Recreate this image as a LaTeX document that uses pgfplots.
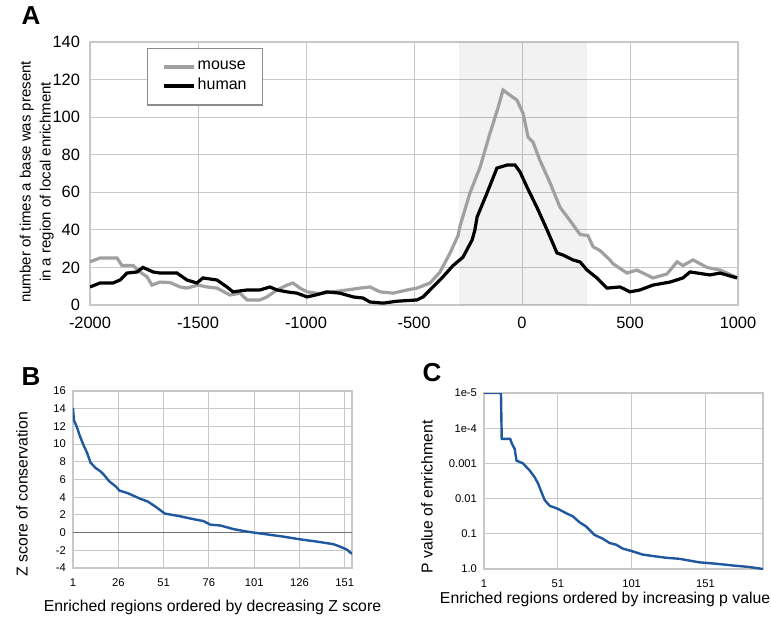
\documentclass[border=0pt]{standalone}
\usepackage{pgfplots}
\pgfplotsset{compat=1.18}
\usepackage{fontspec}
\setmainfont{Liberation Sans}

\definecolor{mousegray}{RGB}{160,160,160}
\definecolor{gridgray}{RGB}{200,200,200}
\definecolor{zblue}{RGB}{31,88,158}

\pgfplotsset{
  panel/.style={
    scale only axis,
    /pgf/number format/assume math mode=true,
    /pgf/number format/1000 sep={},
    major tick length=0pt, minor tick length=0pt,
    axis line style={gridgray, line width=0.6pt},
    grid=major, grid style={gridgray, line width=0.5pt},
  },
  small/.style={
    tick label style={font=\fontsize{5.6}{6.5}\selectfont},
    xticklabel style={yshift=-2pt},
    label style={font=\fontsize{7.9}{9}\selectfont},
  },
}

\begin{document}
\begin{tikzpicture}
\useasboundingbox (0,0) rectangle (385.5pt,-308pt);

% panel A
\node[font=\bfseries\fontsize{13}{15}\selectfont] at (15.5pt,-8pt) {A};
\begin{axis}[panel,
  at={(45pt,-152.5pt)}, anchor=south west,
  width=324pt, height=131.5pt,
  xmin=-2000, xmax=1000, ymin=0, ymax=140,
  xtick={-2000,-1500,...,1000}, ytick={0,20,...,140},
  tick label style={font=\fontsize{8.2}{9.8}\selectfont},
  xticklabel style={yshift=-2.5pt},
  yticklabel style={xshift=-1.5pt},
  ylabel={number of times a base was present\\in a region of local enrichment},
  ylabel style={align=center, font=\fontsize{7.5}{10}\selectfont,
    at={(axis description cs:-0.082,0.468)}, anchor=center},
  legend style={at={(0.088,0.977)}, anchor=north west, draw=black!45,
    line width=0.7pt, font=\fontsize{8}{9.5}\selectfont,
    inner xsep=7pt, inner ysep=5pt, row sep=1pt,
    nodes={inner sep=1pt}},
  legend cell align=left,
  legend image code/.code={\draw[#1, line width=2pt] (0pt,0pt) -- (15pt,0pt);},
]
\addplot[draw=none, fill=black, fill opacity=0.05, forget plot]
  coordinates {(-290,0) (-290,140) (300,140) (300,0)} -- cycle;

\addplot[mousegray, line width=1.6pt] coordinates {
(-2000,23) (-1954,25) (-1875,25) (-1852,21) (-1800,21) (-1769,17.6)
(-1736,15) (-1713,10.6) (-1676,12.2) (-1630,12) (-1583,9.6) (-1551,9)
(-1500,10.6) (-1458,9.6) (-1412,9) (-1352,5.3) (-1306,6.3) (-1273,2.7)
(-1213,2.7) (-1181,4.3) (-1134,8) (-1088,10.6) (-1060,11.7) (-1028,9)
(-995,7) (-935,6) (-875,7) (-810,8) (-750,9) (-704,9.6) (-657,7)
(-597,6.3) (-532,8) (-486,9) (-426,11.7) (-380,17.5) (-333,27.7)
(-296,37) (-287,42) (-241,59.6) (-194,73.4) (-148,91.5) (-111,105)
(-88,114.4) (-69,112.8) (-23,109) (5,102) (28,89.4) (51,86.7) (83,77)
(130,65) (176,52) (222,45) (269,37.5) (305,37) (329,31) (361,29)
(407,24) (421,22) (486,17) (532,18.6) (606,14.4) (671,16.5) (718,23)
(745,21) (792,24) (856,20) (917,18.6) (1000,14.4)
};
\addlegendentry{mouse}

\addplot[black, line width=1.6pt] coordinates {
(-2000,9.6) (-1954,11.7) (-1894,11.7) (-1861,13.3) (-1829,17) (-1782,17.6)
(-1755,20) (-1708,17.6) (-1676,17) (-1597,17) (-1551,13.3) (-1505,11.7)
(-1477,14.4) (-1412,13.3) (-1366,9.6) (-1338,7) (-1273,8) (-1213,8)
(-1167,9.6) (-1134,8) (-1088,7) (-1042,6.3) (-995,4.3) (-949,5.5)
(-903,7) (-843,6.3) (-782,4.3) (-736,3.7) (-704,1.6) (-643,1) (-579,2)
(-486,2.7) (-458,4.3) (-412,9.6) (-366,15) (-319,21) (-273,25.5)
(-231,34.6) (-218,40) (-208,46.8) (-162,59.6) (-116,72.9) (-69,74.5)
(-32,74.5) (-9,70.8) (23,62.8) (69,52) (116,40) (162,27.7) (190,26.6)
(236,24) (269,22.9) (301,18.6) (347,14.4) (393,9) (454,9.6) (500,7)
(546,8) (606,10.6) (685,12.2) (745,14.4) (778,17.6) (870,16) (917,17)
(995,14.4)
};
\addlegendentry{human}
\end{axis}

% panel B
\node[font=\bfseries\fontsize{13}{15}\selectfont] at (15.5pt,-188.5pt) {B};
\begin{axis}[panel, small,
  at={(36.5pt,-284pt)}, anchor=south west,
  width=139.5pt, height=88.5pt,
  xmin=1, xmax=155, ymin=-4, ymax=16,
  xtick={1,26,51,76,101,126,151}, ytick={-4,-2,...,16},
  ylabel={Z score of conservation},
  ylabel style={at={(axis description cs:-0.183,0.418)}, anchor=center},
  xlabel={Enriched regions ordered by decreasing Z score},
  xlabel style={at={(axis description cs:0.5,-0.22)}, anchor=center},
]
\addplot[black!55, line width=0.6pt] coordinates {(1,0) (155,0)};
\addplot[zblue, line width=1.2pt] coordinates {
(1,14.1) (1.5,12.7) (3.2,11.9) (5,10.8) (7,9.8) (8.8,9.0) (10.7,7.9)
(13.5,7.3) (16.3,6.9) (18.2,6.5) (21,5.8) (24.7,5.2) (26.6,4.75)
(31.3,4.45) (37.8,3.85) (42.4,3.5) (47.1,2.85) (51.7,2.15) (60,1.85)
(65.6,1.6) (73,1.3) (76.8,0.9) (82.4,0.8) (89.5,0.4) (96.8,0.12)
(101,0) (108,-0.2) (117,-0.45) (126,-0.75) (135,-1.0) (144.6,-1.3)
(148,-1.55) (152,-1.9) (155,-2.4)
};
\end{axis}

% panel C
\node[font=\bfseries\fontsize{13}{15}\selectfont] at (216pt,-186.5pt) {C};
\begin{axis}[panel, small,
  at={(242pt,-284.5pt)}, anchor=south west,
  width=139.5pt, height=88pt,
  xmin=1, xmax=190, ymode=log, y dir=reverse,
  ymin=1e-5, ymax=1,
  xtick={1,51,101,151},
  ytick={1e-5,1e-4,1e-3,1e-2,1e-1,1},
  yticklabels={1e-5,1e-4,0.001,0.01,0.1,1.0},
  ylabel={P value of enrichment},
  ylabel style={at={(axis description cs:-0.204,0.41)}, anchor=center},
  xlabel={Enriched regions ordered by increasing p value},
  xlabel style={at={(axis description cs:0.434,-0.17)}, anchor=center},
]
\addplot[zblue, line width=1.2pt] coordinates {
(1,1e-5) (12.5,1e-5) (13,2.0e-4) (18.7,2.0e-4) (20,2.8e-4) (21.8,3.9e-4)
(23,8.3e-4) (27.4,1.0e-3) (32,1.6e-3) (35.4,2.5e-3) (37.6,3.7e-3)
(39.9,6.5e-3) (42.1,0.011) (45.5,0.016) (51,0.0195) (56.7,0.026)
(61.2,0.032) (65.7,0.047) (70.2,0.062) (75.8,0.107) (81.5,0.138)
(86,0.182) (90.5,0.204) (95,0.263) (101,0.309) (108.5,0.389)
(115.3,0.427) (124.3,0.479) (133.3,0.513) (146.9,0.646) (158.2,0.708)
(169.5,0.794) (180.7,0.877) (190,1.0)
};
\end{axis}
\end{tikzpicture}
\end{document}
